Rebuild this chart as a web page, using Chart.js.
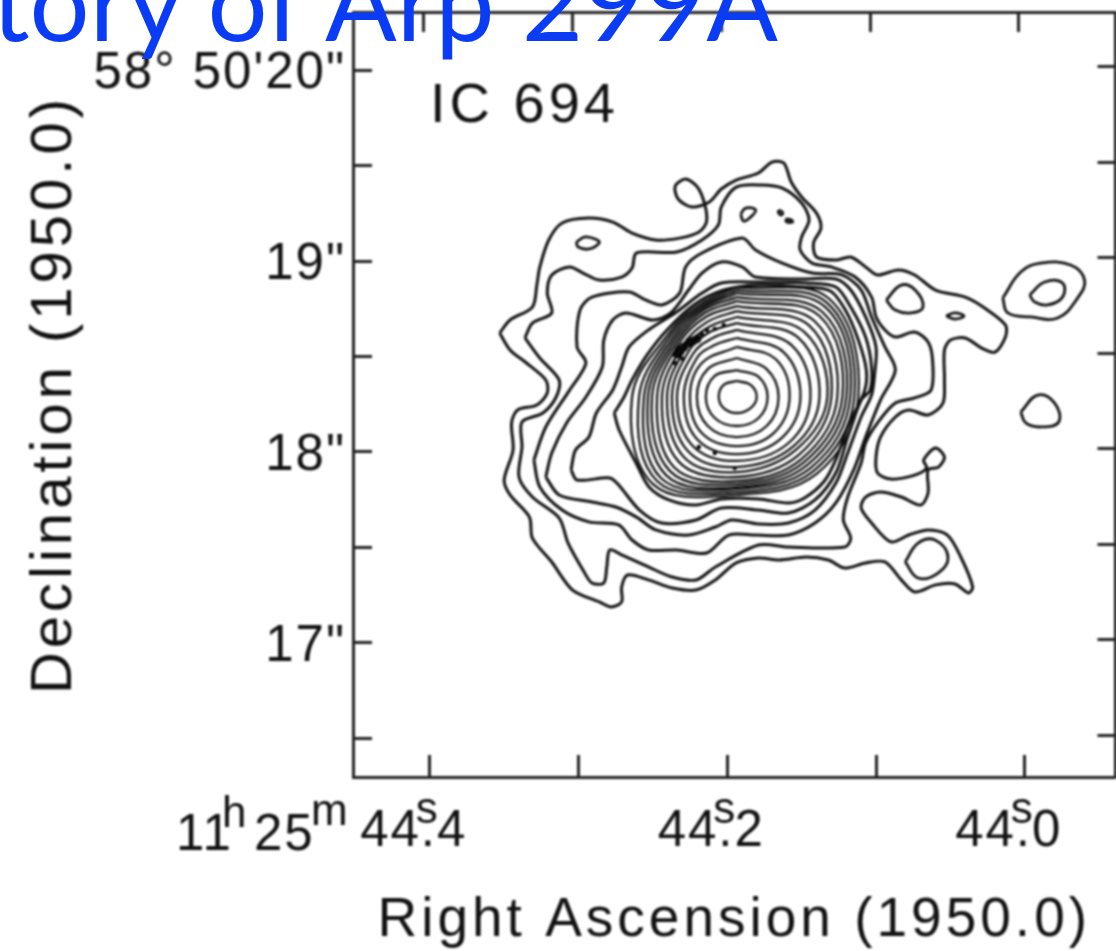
<!DOCTYPE html>
<html><head><meta charset="utf-8">
<style>
html,body{margin:0;padding:0;background:#fff;overflow:hidden;width:1116px;height:951px}
#wrap{position:relative;width:1116px;height:951px;overflow:hidden}
canvas{position:absolute;left:0;top:0;filter:blur(1px)}
#head{position:absolute;right:338px;top:-63px;font:106px/1.2 Lato,sans-serif;color:#0a3cf5;white-space:nowrap}
</style>
<script src="https://cdn.jsdelivr.net/npm/chart.js@4"></script>
</head><body><div id="wrap"><canvas id="c" width="1120" height="951"></canvas><div id="head">tory of Arp 299A</div></div>
<script>
const xTickValues=[44.4,44.3,44.2,44.1,44.0];
const xTickLabels=["44.4","","44.2","","44.0"];
const yTickValues=[20,19.5,19,18.5,18,17.5,17,16.5];
const yTickLabels=["58° 50'20\"","","19\"","","18\"","","17\"",""];
const xAxisTitle="Right Ascension (1950.0)";
const yAxisTitle="Declination (1950.0)";
const sourceName="IC 694";

const c1Ra=[44.353,44.346,44.331,44.328,44.326,44.320,44.311,44.293,44.277,44.264,44.248,44.232,44.219,44.214,44.215,44.220,44.228,44.235,44.233,44.224,44.212,44.204,44.194,44.179,44.170,44.162,44.157,44.150,44.140,44.137,44.142,44.140,44.127,44.117,44.107,44.099,44.085,44.074,44.060,44.040,44.027,44.013,44.013,44.020,44.029,44.040,44.050,44.054,44.054,44.055,44.065,44.078,44.087,44.097,44.100,44.099,44.090,44.074,44.066,44.068,44.060,44.054,44.058,44.065,44.065,44.070,44.083,44.097,44.107,44.110,44.103,44.090,44.078,44.065,44.052,44.043,44.035,44.038,44.047,44.060,44.074,44.083,44.094,44.107,44.121,44.132,44.147,44.165,44.179,44.194,44.208,44.221,44.237,44.253,44.267,44.271,44.271,44.278,44.286,44.304,44.318,44.331,44.333,44.346,44.350,44.344,44.345,44.341,44.328,44.321,44.322,44.335,44.346];
const c1Dec=[18.623,18.691,18.759,18.874,18.969,19.110,19.199,19.225,19.204,19.146,19.110,19.120,19.152,19.204,19.293,19.387,19.429,19.393,19.325,19.283,19.309,19.377,19.424,19.461,19.518,19.513,19.414,19.335,19.251,19.173,19.094,19.021,19.005,19.021,18.969,18.927,18.953,18.927,18.848,18.811,18.754,18.665,18.602,18.523,18.544,18.597,18.586,18.534,18.377,18.256,18.194,18.220,18.183,18.078,17.974,17.890,17.858,17.879,17.916,17.958,18.021,17.974,17.921,17.906,17.785,17.722,17.764,17.790,17.764,17.707,17.628,17.529,17.565,17.592,17.565,17.450,17.293,17.262,17.309,17.304,17.267,17.330,17.424,17.419,17.392,17.434,17.450,17.434,17.445,17.419,17.330,17.277,17.288,17.330,17.356,17.293,17.215,17.188,17.215,17.277,17.424,17.549,17.659,17.775,17.853,18.010,18.152,18.220,18.246,18.309,18.377,18.466,18.534];

const c2Ra=[44.336,44.331,44.318,44.321,44.318,44.306,44.297,44.286,44.271,44.264,44.261,44.234,44.217,44.206,44.204,44.194,44.177,44.163,44.150,44.145,44.150,44.151,44.143,44.130,44.114,44.103,44.100,44.094,44.087,44.074,44.065,44.062,44.063,44.074,44.087,44.099,44.107,44.110,44.119,44.122,44.117,44.121,44.159,44.179,44.208,44.221,44.237,44.253,44.271,44.279,44.281,44.283,44.291,44.297,44.307,44.313,44.331,44.340,44.338,44.338,44.324,44.315,44.313,44.326];
const c2Dec=[18.597,18.675,18.728,18.832,18.927,18.969,18.937,18.900,18.916,18.963,19.042,19.047,19.110,19.188,19.283,19.387,19.398,19.382,19.304,19.215,19.126,19.058,18.989,18.969,18.916,18.811,18.707,18.639,18.602,18.628,18.576,18.482,18.324,18.283,18.256,18.152,18.047,17.942,17.764,17.644,17.549,17.502,17.502,17.513,17.398,17.330,17.345,17.398,17.461,17.487,17.398,17.314,17.314,17.382,17.523,17.654,17.764,17.869,18.026,18.157,18.204,18.288,18.377,18.492];

const c3Ra=[44.330,44.322,44.306,44.295,44.301,44.299,44.291,44.266,44.255,44.244,44.232,44.228,44.217,44.190,44.181,44.163,44.143,44.123,44.110,44.103,44.094,44.087,44.097,44.107,44.115,44.127,44.141,44.159,44.181,44.199,44.214,44.234,44.253,44.264,44.273,44.293,44.311,44.326];
const c3Dec=[17.958,18.131,18.324,18.466,18.550,18.743,18.811,18.838,18.796,18.770,18.832,18.969,19.042,19.120,19.058,18.989,18.937,18.927,18.848,18.707,18.550,18.429,18.272,18.078,17.906,17.733,17.628,17.565,17.565,17.565,17.471,17.487,17.487,17.539,17.618,17.634,17.696,17.817];

const c4Ra=[44.322,44.318,44.308,44.295,44.284,44.283,44.277,44.268,44.250,44.238,44.226,44.217,44.204,44.190,44.181,44.147,44.127,44.117,44.107,44.100,44.101,44.103,44.110,44.119,44.127,44.141,44.159,44.179,44.197,44.208,44.226,44.248,44.261,44.275,44.291,44.313];
const c4Dec=[17.869,17.995,18.152,18.288,18.445,18.586,18.691,18.728,18.691,18.728,18.848,18.937,18.995,18.969,18.916,18.906,18.906,18.848,18.707,18.550,18.403,18.298,18.183,17.995,17.837,17.696,17.628,17.623,17.644,17.607,17.565,17.592,17.659,17.712,17.738,17.775];

const c5Ra=[44.305,44.302,44.293,44.288,44.277,44.271,44.266,44.253,44.235,44.217,44.204,44.179,44.147,44.127,44.117,44.107,44.103,44.104,44.110,44.119,44.127,44.141,44.159,44.179,44.204,44.221,44.244,44.259,44.273,44.279,44.301];
const c5Dec=[17.906,18.010,18.078,18.204,18.325,18.445,18.550,18.639,18.728,18.832,18.885,18.890,18.885,18.864,18.759,18.602,18.445,18.324,18.272,18.078,17.890,17.749,17.680,17.696,17.707,17.644,17.628,17.696,17.827,17.864,17.853];

const c6Ra=[44.2760,44.2694,44.2640,44.2539,44.2405,44.2225,44.2024,44.1789,44.1488,44.1307,44.1206,44.1119,44.1065,44.1079,44.1186,44.1266,44.1347,44.1481,44.1588,44.1789,44.2037,44.2211,44.2392,44.2526,44.2613,44.2727];
const c6Dec=[18.204,18.288,18.377,18.508,18.639,18.770,18.848,18.874,18.864,18.843,18.743,18.586,18.429,18.314,18.141,17.968,17.848,17.759,17.733,17.754,17.754,17.722,17.749,17.817,17.942,18.115];

const r1Ra=[44.1936,44.1843,44.1802,44.1843,44.1936,44.2024,44.2057,44.2024];
const r1Dec=[18.372,18.351,18.288,18.230,18.204,18.230,18.288,18.351];
const r2Ra=[44.1936,44.1789,44.1729,44.1789,44.1936,44.2084,44.2144,44.2084];
const r2Dec=[18.429,18.393,18.288,18.178,18.136,18.178,18.288,18.398];
const r3Ra=[44.1936,44.1735,44.1655,44.1735,44.1936,44.2131,44.2204,44.2131];
const r3Dec=[18.492,18.434,18.288,18.136,18.078,18.136,18.288,18.434];
const r4Ra=[44.1936,44.1675,44.1581,44.1688,44.1936,44.2171,44.2251,44.2171];
const r4Dec=[18.550,18.487,18.288,18.099,18.031,18.099,18.288,18.466];
const r5Ra=[44.1936,44.1622,44.1508,44.1635,44.1936,44.2204,44.2292,44.2204,44.2084];
const r5Dec=[18.597,18.523,18.288,18.073,17.989,18.068,18.288,18.492,18.560];
const r6Ra=[44.1936,44.1568,44.1441,44.1588,44.1936,44.2238,44.2338,44.2231,44.2097];
const r6Dec=[18.639,18.560,18.288,18.047,17.953,18.037,18.288,18.513,18.597];
const r7Ra=[44.1936,44.1521,44.1380,44.1554,44.1936,44.2265,44.2372,44.2258,44.2117];
const r7Dec=[18.675,18.597,18.288,18.031,17.921,18.005,18.288,18.529,18.628];
const r8Ra=[44.1936,44.1481,44.1327,44.1541,44.1936,44.2292,44.2405,44.2278,44.2124];
const r8Dec=[18.707,18.628,18.288,18.010,17.895,17.974,18.288,18.544,18.654];
const r9Ra=[44.1936,44.1447,44.1300,44.1521,44.1936,44.2325,44.2439,44.2298,44.2137];
const r9Dec=[18.738,18.660,18.288,17.984,17.869,17.948,18.288,18.560,18.680];
const r10Ra=[44.1936,44.1414,44.1260,44.1501,44.1936,44.2359,44.2472,44.2318,44.2144];
const r10Dec=[18.764,18.686,18.288,17.963,17.848,17.921,18.288,18.576,18.707];
const r11Ra=[44.1936,44.1380,44.1226,44.1481,44.1936,44.2385,44.2506,44.2332,44.2151];
const r11Dec=[18.790,18.712,18.288,17.948,17.832,17.900,18.288,18.586,18.728];
const r12Ra=[44.1936,44.1360,44.1199,44.1461,44.1936,44.2412,44.2533,44.2345,44.2158];
const r12Dec=[18.811,18.733,18.288,17.932,17.817,17.879,18.288,18.597,18.743];
const r13Ra=[44.1936,44.1340,44.1173,44.1441,44.1936,44.2446,44.2560,44.2359,44.2164];
const r13Dec=[18.832,18.759,18.288,17.916,17.806,17.864,18.288,18.607,18.754];
const r14Ra=[44.1936,44.1327,44.1146,44.1421,44.1936,44.2472,44.2593,44.2372,44.2171];
const r14Dec=[18.848,18.780,18.288,17.900,17.790,17.848,18.288,18.618,18.764];
const r15Ra=[44.1936,44.1313,44.1119,44.1400,44.1936,44.2499,44.2640,44.2385,44.2178];
const r15Dec=[18.864,18.801,18.288,17.885,17.775,17.832,18.288,18.628,18.775];

const i1Ra=[44.3015,44.2955,44.2874,44.2861,44.2928,44.3002];
const i1Dec=[19.099,19.126,19.110,19.094,19.063,19.073];
const i2Ra=[44.1910,44.1876,44.1809,44.1843,44.1890];
const i2Dec=[19.246,19.277,19.267,19.230,19.209];
const i3Ra=[44.1655,44.1628,44.1635,44.1655];
const i3Dec=[19.267,19.256,19.241,19.251];
const i4Ra=[44.1608,44.1568,44.1561,44.1601];
const i4Dec=[19.220,19.215,19.204,19.204];
const i5Ra=[44.0931,44.0831,44.0737,44.0684,44.0764,44.0871];
const i5Dec=[18.796,18.874,18.848,18.759,18.728,18.743];
const i6Ra=[44.0529,44.0469,44.0409,44.0469];
const i6Dec=[18.712,18.728,18.712,18.696];
const i7Ra=[44.0148,44.0027,43.9893,43.9692,43.9598,43.9645,43.9779,43.9960,44.0114];
const i7Dec=[18.806,18.942,18.989,18.979,18.900,18.806,18.702,18.707,18.728];
const i8Ra=[43.9967,43.9866,43.9746,43.9746,43.9846,43.9933];
const i8Dec=[18.822,18.890,18.885,18.811,18.770,18.785];
const i9Ra=[44.0027,43.9913,43.9799,43.9772,43.9893,43.9993];
const i9Dec=[18.209,18.298,18.256,18.157,18.131,18.152];
const i10Ra=[44.0804,44.0717,44.0603,44.0516,44.0583,44.0717];
const i10Dec=[17.424,17.523,17.539,17.450,17.366,17.340];

const blobRa=[44.2325,44.2292,44.2258,44.2231,44.2204,44.2338];
const blobDec=[18.534,18.550,18.571,18.581,18.592,18.513];
const speckRa=[44.2137,44.2024,44.2171,44.2084,44.1950,44.2084,44.2191,44.2352,44.2298];
const speckDec=[18.639,18.665,18.618,18.644,17.916,17.995,18.026,18.466,18.487];

const outer=[[c1Ra,c1Dec],[c2Ra,c2Dec],[c3Ra,c3Dec],[c4Ra,c4Dec],[c5Ra,c5Dec],[c6Ra,c6Dec]];
const rings=[[r1Ra,r1Dec],[r2Ra,r2Dec],[r3Ra,r3Dec],[r4Ra,r4Dec],[r5Ra,r5Dec],[r6Ra,r6Dec],[r7Ra,r7Dec],[r8Ra,r8Dec],[r9Ra,r9Dec],[r10Ra,r10Dec],[r11Ra,r11Dec],[r12Ra,r12Dec],[r13Ra,r13Dec],[r14Ra,r14Dec],[r15Ra,r15Dec]];
const islands=[[i1Ra,i1Dec],[i2Ra,i2Dec],[i3Ra,i3Dec],[i4Ra,i4Dec],[i5Ra,i5Dec],[i6Ra,i6Dec],[i7Ra,i7Dec],[i8Ra,i8Dec],[i9Ra,i9Dec],[i10Ra,i10Dec]];

const ink='#111';
const loop=(ra,dec)=>{const p=ra.map((x,i)=>({x,y:dec[i]}));p.push({...p[0]});return p;};
const line=(pair,tension,w)=>({data:loop(pair[0],pair[1]),showLine:true,pointRadius:0,borderColor:ink,borderWidth:w,tension,fill:false});
const dots=(ra,dec,r)=>({data:ra.map((x,i)=>({x,y:dec[i]})),showLine:false,pointRadius:r,pointBackgroundColor:'#000',pointBorderWidth:0});
const datasets=[
  ...outer.map(p=>line(p,0.3,3)),
  ...rings.map(p=>line(p,0.38,2.3)),
  ...islands.map(p=>line(p,0.42,2.8)),
  dots(blobRa,blobDec,4.5),
  dots(speckRa,speckDec,2.2)
];

const fitBox=(w,h)=>s=>{ if(w!==null)s.width=w; if(h!==null)s.height=h; s.paddingLeft=s.paddingRight=s.paddingTop=s.paddingBottom=0; };
const textFont='"Liberation Sans"';
const grid=len=>({drawOnChartArea:false,drawTicks:true,tickLength:len,tickColor:'#222',tickWidth:3});
const border={display:true,color:'#222',width:3};
const setTicks=v=>s=>{s.ticks=v.map(value=>({value}));};

const decor={id:'decor',
  beforeDraw(ch){ch.ctx.letterSpacing='4px';},
  beforeDatasetsDraw(ch){ch.ctx.letterSpacing='2px';},
  afterDraw(ch){
    const c=ch.ctx,xs=ch.scales.x;
    c.save();c.fillStyle=ink;c.textAlign='left';c.textBaseline='alphabetic';
    c.font='51px '+textFont;c.letterSpacing='2px';
    c.fillText('11',176,850);c.fillText('25',254,850);
    c.font='44px '+textFont;
    c.fillText('h',222,827);c.fillText('m',311,825);
    c.textAlign='center';
    [44.4,44.2,44.0].forEach(v=>c.fillText('s',xs.getPixelForValue(v)-2,823));
    c.textAlign='left';
    c.font='56px '+textFont;c.letterSpacing='4px';
    c.fillText(sourceName,430,122);
    c.restore();
  }};

new Chart(document.getElementById('c'),{
  type:'scatter',
  data:{datasets},
  plugins:[decor],
  options:{
    responsive:false,animation:false,devicePixelRatio:1,
    layout:{padding:0},
    plugins:{legend:{display:false},tooltip:{enabled:false}},
    scales:{
      x:{type:'linear',position:'bottom',reverse:true,min:43.939,max:44.4516,
        afterBuildTicks:setTicks(xTickValues),afterFit:fitBox(null,174),
        grid:grid(-22),border,
        ticks:{z:1,autoSkip:false,maxRotation:0,padding:46,labelOffset:-16,color:ink,font:{family:textFont,size:51},
          callback:v=>xTickLabels[xTickValues.indexOf(v)]??''},
        title:{display:true,text:xAxisTitle,color:ink,font:{family:textFont,size:55},padding:{top:0,bottom:-3}}},
      x2:{type:'linear',axis:'x',position:'top',reverse:true,min:43.935,max:44.4476,
        afterBuildTicks:setTicks(xTickValues),afterFit:fitBox(null,12),
        grid:grid(-20),border,ticks:{display:false}},
      y:{type:'linear',position:'left',min:16.298,max:20.304,
        afterBuildTicks:setTicks(yTickValues),afterFit:fitBox(353,null),
        grid:grid(-19),border,
        ticks:{z:1,autoSkip:false,padding:26,labelOffset:4,color:ink,font:{family:textFont,size:51},
          callback:v=>yTickLabels[yTickValues.indexOf(v)]??''},
        title:{display:true,text:yAxisTitle,color:ink,font:{family:textFont,size:58},padding:{top:20,bottom:0}}},
      y2:{type:'linear',axis:'y',position:'right',min:16.282,max:20.288,
        afterBuildTicks:setTicks(yTickValues),afterFit:fitBox(2,null),
        grid:grid(-18),border,ticks:{display:false}}
    }
  }
});
</script></body></html>
